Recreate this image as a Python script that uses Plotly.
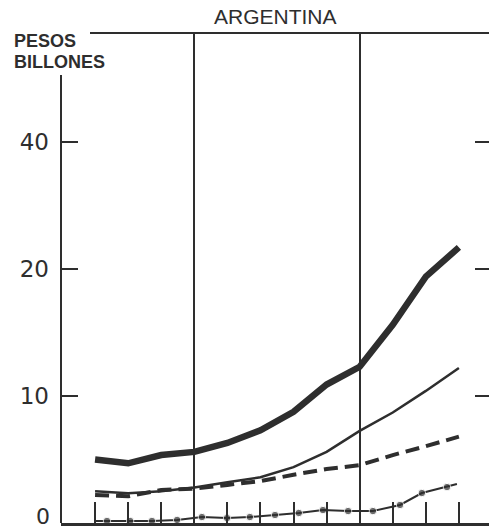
import plotly.graph_objects as go

# ---- data ----
years = [1947, 1948, 1949, 1950, 1951, 1952, 1953, 1954, 1955, 1956, 1957, 1958]
serie_gruesa = [5.0, 4.7, 5.35, 5.6, 6.3, 7.3, 8.75, 10.9, 12.3, 15.6, 19.4, 21.7]
serie_fina = [2.5, 2.35, 2.5, 2.8, 3.2, 3.6, 4.4, 5.6, 7.25, 8.7, 10.4, 12.2]
serie_trazos = [2.2, 2.1, 2.6, 2.7, 3.0, 3.3, 3.8, 4.25, 4.55, 5.35, 6.05, 6.8]
puntos_x = [1947.0, 1947.36, 1948.06, 1948.72, 1949.48, 1950.23, 1950.99, 1951.68,
            1952.44, 1953.16, 1953.89, 1954.65, 1955.4, 1956.22, 1956.88, 1957.64, 1957.94]
puntos_y = [0.16, 0.16, 0.16, 0.16, 0.24, 0.47, 0.39, 0.47, 0.63, 0.79, 1.02, 0.94,
            0.94, 1.42, 2.36, 2.83, 3.07]
grid_years = [1950, 1955]
y_tickvals = [10, 20, 30]
y_ticktext = ["10", "20", "40"]
zero_label = "0"
title_text = "ARGENTINA"
unit_lines = ["PESOS", "BILLONES"]

INK = "#2e2e2e"
W, H = 489, 530
# plot area in page pixels: x 61..489, y 33..523
ML, MR, MT, MB = 61, 0, 33, 7
PW, PH = W - ML - MR, H - MT - MB


def px_x(p):
    return (p - ML) / PW


def px_y(p):
    return (H - MB - p) / PH


fig = go.Figure()
fig.add_trace(go.Scatter(x=years, y=serie_gruesa, mode="lines",
                         line=dict(color=INK, width=6.5), hoverinfo="skip"))
fig.add_trace(go.Scatter(x=years, y=serie_fina, mode="lines",
                         line=dict(color=INK, width=2.5), hoverinfo="skip"))
fig.add_trace(go.Scatter(x=years, y=serie_trazos, mode="lines",
                         line=dict(color=INK, width=4, dash="14px,7px"), hoverinfo="skip"))
sizes = [0] + [7.5] * (len(puntos_x) - 2) + [0]
fig.add_trace(go.Scatter(x=puntos_x, y=puntos_y, mode="lines+markers",
                         line=dict(color=INK, width=2),
                         marker=dict(color=INK, size=sizes), hoverinfo="skip"))
# invisible trace to carry the right-hand axis
fig.add_trace(go.Scatter(x=[years[0]], y=[0], yaxis="y2", mode="markers",
                         marker=dict(opacity=0), hoverinfo="skip"))

yr = [0, PH / 12.7]
fig.update_layout(
    width=W, height=H, autosize=False,
    margin=dict(l=ML, r=MR, t=MT, b=MB, pad=0),
    plot_bgcolor="white", paper_bgcolor="white",
    showlegend=False,
    xaxis=dict(range=[1945.97, 1958.91], showline=True, linecolor=INK, linewidth=2.5,
               tickvals=grid_years, ticks="", showticklabels=False,
               showgrid=True, gridcolor=INK, gridwidth=1.5, zeroline=False,
               minor=dict(tickvals=years, ticks="inside", ticklen=21, tickwidth=1.6,
                          tickcolor=INK, showgrid=False)),
    yaxis=dict(range=yr, showline=False, zeroline=False, showgrid=False,
               tickvals=y_tickvals, ticktext=y_ticktext, ticks="inside", ticklen=17,
               tickwidth=1.6, tickcolor=INK, ticklabelstandoff=11,
               tickfont=dict(family="DejaVu Sans", size=23, color=INK)),
    yaxis2=dict(range=yr, overlaying="y", side="right", showline=False, zeroline=False,
                showgrid=False, tickvals=y_tickvals, ticks="inside", ticklen=14,
                tickwidth=1.6, tickcolor=INK, showticklabels=False),
    shapes=[
        dict(type="line", xref="paper", yref="paper", x0=0, x1=0, y0=0, y1=px_y(75),
             line=dict(color=INK, width=2)),
        dict(type="line", xref="paper", yref="paper", x0=px_x(90), x1=1, y0=1, y1=1,
             line=dict(color=INK, width=2)),
    ],
    annotations=[
        dict(text=title_text, xref="paper", yref="paper", x=px_x(275.5), y=px_y(16),
             xanchor="center", yanchor="middle", showarrow=False,
             font=dict(family="Liberation Sans", size=21, color=INK)),
        dict(text="<b>%s</b>" % unit_lines[0], xref="paper", yref="paper", x=px_x(12), y=px_y(41),
             xanchor="left", yanchor="middle", showarrow=False,
             font=dict(family="Liberation Sans", size=18, color=INK)),
        dict(text="<b>%s</b>" % unit_lines[1], xref="paper", yref="paper", x=px_x(12), y=px_y(61.5),
             xanchor="left", yanchor="middle", showarrow=False,
             font=dict(family="Liberation Sans", size=18, color=INK)),
        dict(text=zero_label, xref="paper", yref="paper", x=px_x(51), y=px_y(529.5),
             xanchor="right", yanchor="bottom", showarrow=False, borderpad=0,
             font=dict(family="DejaVu Sans", size=22, color=INK)),
    ],
)

fig.write_html("out.html", config={"displayModeBar": False},
               post_script="document.body.style.margin='0px';")
